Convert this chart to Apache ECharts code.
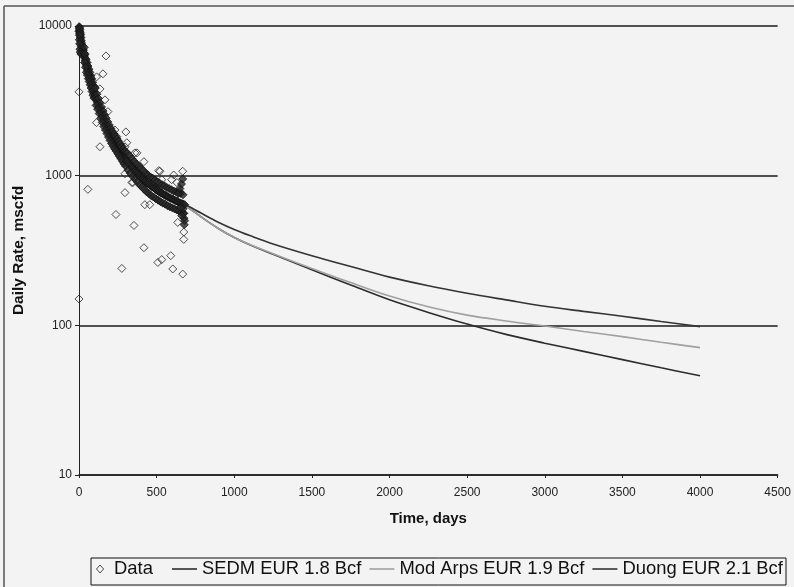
<!DOCTYPE html>
<html>
<head>
<meta charset="utf-8">
<script src="https://cdn.jsdelivr.net/npm/echarts@6/dist/echarts.min.js"></script>
<style>
html,body{margin:0;padding:0;background:#f3f3f3;}
#chart{width:794px;height:587px;}
</style>
</head>
<body>
<div id="chart"></div>
<script>
// ---- Data ----
const xTicks = [0, 500, 1000, 1500, 2000, 2500, 3000, 3500, 4000, 4500];
const yTicks = [10, 100, 1000, 10000];

const curveTimes   = [0, 50, 100, 200, 300, 400, 500, 600, 700, 800, 900, 1000, 1100, 1250, 1500, 1750, 2000, 2250, 2500, 2750, 3000, 3250, 3500, 3750, 4000];
const sedmRates    = [10000, 5400, 3500, 1950, 1380, 1060, 850, 710, 615, 518, 442, 386, 345, 298, 235, 186, 148, 122, 102, 87, 76, 67, 59, 52, 46];
const modArpsRates = [10000, 5400, 3500, 1950, 1380, 1060, 850, 710, 615, 518, 442, 386, 347, 301, 240, 193, 157, 133, 117, 107, 99, 91, 84, 77, 71];
const duongRates   = [10000, 5400, 3500, 1950, 1390, 1070, 860, 720, 630, 552, 487, 437, 398, 350, 292, 247, 210, 184, 164, 148, 134, 124, 115, 106, 98];

// measured daily rates [time, rate] – dense main trend band
const dataBand = [
  [0,9200],[1,9900],[2,9600],[3,9300],[4,9800],[5,8900],[6,9500],[7,8600],[8,9100],[9,8300],[10,8800],[11,7900],[12,8400],[13,7600],[14,8000],[15,7300],[16,7700],[18,7100],[20,7400],[22,6800],[24,7000],[26,6600],[28,6900],[30,6400],[2,8100],[4,7600],[6,7000],[3,8700],[8,6700],[12,6500],
  [32,6600],[35,6300],[38,6100],[41,5900],[44,5700],[47,5500],[50,5400],[53,5200],[56,5050],[59,4950],[62,4800],[65,4700],[68,4550],[71,4450],[74,4350],[77,4200],[80,4100],[83,4000],[86,3900],[89,3800],[92,3700],[95,3650],[98,3550],
  [34,7200],[40,6500],[46,6000],[52,5700],[58,5400],[64,5150],[70,4900],[76,4650],[82,4450],[88,4200],[94,4000],[100,3850],
  [36,5700],[42,5300],[48,4900],[54,4700],[60,4450],[66,4250],[72,4050],[78,3850],[84,3650],[90,3450],[96,3300],
  [103,3450],[108,3330],[113,3220],[118,3100],[123,3000],[128,2900],[133,2800],[138,2700],[143,2620],[148,2540],[153,2460],[158,2390],[163,2320],[168,2270],[173,2200],[178,2140],[183,2080],[188,2020],[193,1970],[198,1930],[203,1880],[208,1840],[213,1800],[218,1760],[223,1720],[228,1690],[233,1660],[238,1630],[243,1600],[248,1570],[253,1540],[258,1510],[263,1480],[268,1450],[273,1420],[278,1390],[283,1370],[288,1340],[293,1320],[298,1290],
  [105,3850],[115,3500],[125,3280],[135,3070],[145,2880],[155,2700],[165,2550],[175,2420],[185,2290],[195,2180],[205,2070],[215,1980],[225,1900],[235,1830],[245,1760],[255,1700],[265,1630],[275,1560],[285,1510],[295,1460],
  [110,2950],[120,2780],[130,2600],[140,2420],[150,2270],[160,2130],[170,2020],[180,1910],[190,1810],[200,1720],[210,1640],[220,1570],[230,1510],[240,1460],[250,1400],[260,1350],[270,1300],[280,1250],[290,1200],[300,1160],
  [305,1260],[312,1230],[320,1200],[328,1170],[336,1140],[344,1120],[352,1090],[360,1070],[368,1050],[376,1030],[384,1010],[392,990],[400,970],[408,955],[416,935],[424,920],[432,905],[440,890],[448,880],[456,865],[464,850],[472,840],[480,830],[488,820],[496,805],[504,795],[512,785],[520,775],[528,765],[536,760],[544,750],[552,740],[560,735],[568,725],[576,720],[584,710],[592,705],[600,700],[608,695],[616,685],[624,680],[632,675],[640,665],[648,660],[656,655],[664,650],[672,645],[680,640],
  [310,1420],[325,1360],[340,1300],[355,1250],[370,1200],[385,1160],[400,1120],[415,1080],[430,1040],[445,1010],[460,980],[475,960],[490,935],[505,910],[520,890],[535,870],[550,855],[565,835],[580,820],[595,805],[610,790],[625,780],[640,770],[655,760],[670,745],
  [315,1090],[330,1040],[345,990],[360,950],[375,910],[390,870],[405,840],[420,810],[435,780],[450,760],[465,735],[480,720],[495,700],[510,685],[525,670],[540,655],[555,645],[570,630],[585,620],[600,610],[615,600],[630,590],[645,580],[660,570],[675,560],
  [640,760],[650,820],[660,880],[668,950],[672,560],[676,520],[680,500],[678,470],[670,600],[662,540],[655,610]
];
// scattered measurements away from the trend
const dataOutliers = [
  [0,3630],[0,150],[57,810],[174,6310],[154,4790],[113,4570],[135,3800],[167,3210],[186,2680],[113,2260],[135,1560],[231,2020],[302,1960],[244,1820],[308,1660],[360,1420],[418,1240],[296,1030],[514,1080],[533,940],[597,940],[610,1010],[668,1070],[296,770],[347,900],[238,550],[354,465],[418,330],[276,240],[508,263],[533,275],[591,292],[604,238],[668,220],[675,375],[675,420],[636,487],[424,640],[456,640],[341,900],[296,1560],[373,1420],[521,1070],[630,900],[649,780]
];

const seriesNames = ['Data', 'SEDM EUR 1.8 Bcf', 'Mod Arps EUR 1.9 Bcf', 'Duong EUR 2.1 Bcf'];
const lineColors = ['#2c2c2c', '#a0a0a0', '#333333'];

// ---- Chart ----
const chart = echarts.init(document.getElementById('chart'), null, {renderer: 'canvas'});
const zip = (xs, ys) => xs.map((x, i) => [x, ys[i]]);
const FONT = '"Liberation Sans", Arial, sans-serif';
const LINE_ICON = 'path://M0,0 L25,0 L25,1.6 L0,1.6 Z';
const DIAMOND_ICON = 'path://M4,0 L8,4.5 L4,9 L0,4.5 Z';
const legendText = {fontFamily: FONT, fontSize: 18.4, color: '#111'};

function lineSeries(idx, rates) {
  return {
    name: seriesNames[idx], type: 'line', z: 2, smooth: 0.35,
    data: zip(curveTimes, rates), showSymbol: false, symbol: 'none',
    lineStyle: {color: lineColors[idx - 1], width: 1.6},
    itemStyle: {color: lineColors[idx - 1]},
    emphasis: {disabled: true}
  };
}

chart.setOption({
  backgroundColor: '#f3f3f3',
  animation: false,
  grid: {left: 79, right: 15, top: 26, bottom: 112, containLabel: false},
  legend: [
    {
      data: [{name: seriesNames[0], icon: DIAMOND_ICON,
              itemStyle: {color: 'rgba(0,0,0,0)', borderColor: '#222', borderWidth: 1}}],
      left: 96, top: 560, padding: 0,
      itemWidth: 8, itemHeight: 8,
      selectedMode: false,
      textStyle: Object.assign({}, legendText, {padding: [0, 0, 0, 5]})
    },
    {
      data: [
        {name: seriesNames[1], icon: LINE_ICON},
        {name: seriesNames[2], icon: LINE_ICON},
        {name: seriesNames[3], icon: LINE_ICON}
      ],
      left: 172, top: 560, padding: 0,
      itemWidth: 25, itemHeight: 6, itemGap: 8,
      selectedMode: false, textStyle: legendText
    }
  ],
  xAxis: {
    type: 'value', min: 0, max: 4500, interval: 500,
    name: 'Time, days', nameLocation: 'middle', nameGap: 36,
    nameTextStyle: {fontFamily: FONT, fontSize: 15, fontWeight: 'bold', color: '#111'},
    axisLine: {show: true, onZero: false, lineStyle: {color: '#222', width: 1.5}},
    axisTick: {show: true, length: 3, lineStyle: {color: '#222'}},
    axisLabel: {fontFamily: FONT, fontSize: 12, color: '#222', margin: 12,
      formatter: v => xTicks.includes(v) ? String(v) : ''},
    splitLine: {show: false}
  },
  yAxis: {
    type: 'log', logBase: 10, min: 10, max: 10000,
    name: 'Daily Rate, mscfd', nameLocation: 'middle', nameGap: 52, nameRotate: 90,
    nameTextStyle: {fontFamily: FONT, fontSize: 15.5, fontWeight: 'bold', color: '#111'},
    axisLine: {show: true, lineStyle: {color: '#222', width: 1}},
    axisTick: {show: true, length: 4, lineStyle: {color: '#222'}},
    axisLabel: {fontFamily: FONT, fontSize: 12, color: '#222', margin: 7,
      formatter: v => yTicks.includes(Math.round(v)) ? String(Math.round(v)) : ''},
    splitLine: {show: true, lineStyle: {color: '#1a1a1a', width: 1.5}}
  },
  series: [
    {
      name: seriesNames[0], type: 'scatter', z: 6,
      data: dataBand,
      symbol: 'diamond', symbolSize: 8,
      itemStyle: {color: '#262626', borderColor: '#111', borderWidth: 1},
      emphasis: {disabled: true}
    },
    {
      name: seriesNames[0], type: 'scatter', z: 5,
      data: dataOutliers,
      symbol: 'diamond', symbolSize: 8,
      itemStyle: {color: 'rgba(0,0,0,0)', borderColor: '#222', borderWidth: 1},
      emphasis: {disabled: true}
    },
    lineSeries(1, sedmRates),
    lineSeries(2, modArpsRates),
    lineSeries(3, duongRates)
  ],
  graphic: [
    {type: 'line', shape: {x1: 4, y1: 6, x2: 794, y2: 6}, style: {stroke: '#555', lineWidth: 1.5}, silent: true},
    {type: 'line', shape: {x1: 4, y1: 6, x2: 4, y2: 587}, style: {stroke: '#555', lineWidth: 1.5}, silent: true},
    {type: 'rect', shape: {x: 91, y: 558, width: 695, height: 27},
     style: {fill: 'none', stroke: '#111', lineWidth: 1}, silent: true, z: -1}
  ]
});
</script>
</body>
</html>
